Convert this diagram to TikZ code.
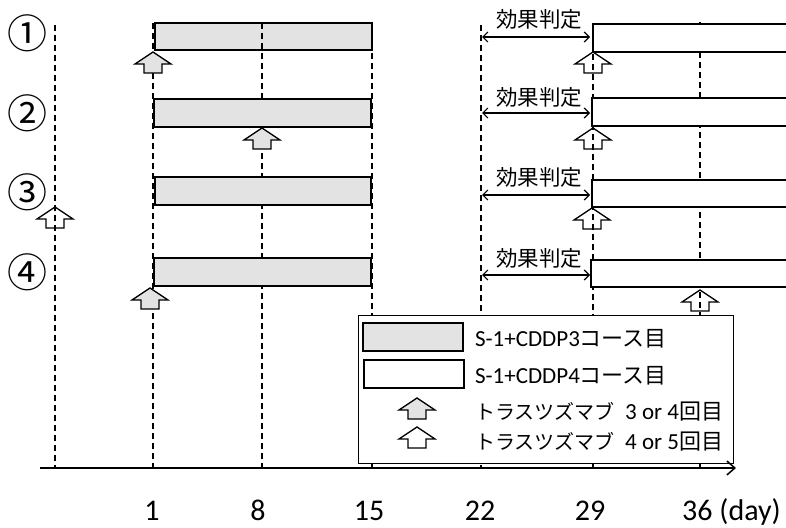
\documentclass[tikz,border=0pt]{standalone}
\usepackage{fontspec}
\setmainfont{Carlito}
\newfontfamily\jp{Noto Sans CJK JP}
\usetikzlibrary{arrows.meta}
\newcommand\uparrowshape[3]{\draw[#3] (#1,#2) -- ++(18,12) -- ++(-9,0) -- ++(0,9) -- ++(-18,0) -- ++(0,-9) -- ++(-9,0) -- cycle;}
\begin{document}
\begin{tikzpicture}[x=1pt,y=-1pt,
 dline/.style={dash pattern=on 6pt off 4pt, line width=1.2pt},
 graybar/.style={draw, line width=1.5pt, fill=gray!22},
 whitebar/.style={draw, line width=1.5pt, fill=white},
 garr/.style={line width=1.3pt, fill=gray!22},
 warr/.style={line width=1.3pt},
 judge/.style={{Straight Barb[length=5pt,width=10pt]}-{Straight Barb[length=5pt,width=10pt]}, line width=1.2pt},
 jtext/.style={font=\jp\fontsize{21.5}{23}\selectfont, inner sep=0pt},
 circ/.style={font=\jp\fontsize{40}{42}\selectfont, inner sep=0pt},
 daylbl/.style={font=\fontsize{30}{32}\selectfont, inner sep=0pt, anchor=base},
 legtext/.style={font=\fontsize{23}{25}\selectfont, inner sep=0pt, anchor=west}
]
\useasboundingbox (0,0) rectangle (786,527);
% day coordinates on axis
\coordinate (dm) at (55,468);
\coordinate (d1) at (153,468);
\coordinate (d8) at (262,468);
\coordinate (d15) at (372,468);
\coordinate (d22) at (481,468);
\coordinate (d29) at (593,468);
\coordinate (d36) at (700,468);
% dashed verticals
\draw[dline] (55,25) -- (dm);
\draw[dline] (153,23) -- (d1);
\draw[dline] (262,23) -- (d8);
\draw[dline] (372,23) -- (d15);
\draw[dline] (481,25) -- (d22);
\draw[dline] (593,24) -- (d29);
\draw[dline] (700,22) -- (d36);
% gray bars (course 3)
\draw[graybar] (155,23) rectangle (372,50);
\draw[graybar] (154,99) rectangle (371,127);
\draw[graybar] (155,177) rectangle (371,205);
\draw[graybar] (154,258) rectangle (371,286);
\draw[dline] (262,23) -- (262,50);
% white bars (course 4)
\draw[line width=1.5pt, fill=white] (786,24) -- (593,24) -- (593,52) -- (786,52);
\draw[line width=1.5pt, fill=white] (786,98) -- (592,98) -- (592,126) -- (786,126);
\draw[line width=1.5pt, fill=white] (786,180) -- (592,180) -- (592,207) -- (786,207);
\draw[line width=1.5pt, fill=white] (786,260) -- (591,260) -- (591,287) -- (786,287);
% effect judgement
\foreach \yt/\ya/\n in {19/37/1, 97/113/2, 177/195/3, 258/275/4}{
  \node[jtext] (j\n) at (539,\yt) {効果判定};
  \coordinate (ja\n) at (482,\ya);
  \coordinate (jb\n) at (590,\ya);
  \draw[judge] (ja\n) -- (jb\n);
}
% circled numbers
\node[circ] (c1) at (28,33) {①};
\node[circ] (c2) at (28,113) {②};
\node[circ] (c3) at (28,192) {③};
\node[circ] (c4) at (28,272) {④};
% trastuzumab arrows
\uparrowshape{153}{52}{garr}
\uparrowshape{262}{128}{garr}
\uparrowshape{55}{207}{warr}
\uparrowshape{150}{288}{garr}
\uparrowshape{593}{52}{warr}
\uparrowshape{593}{128}{warr}
\uparrowshape{592}{208}{warr}
\uparrowshape{700}{290}{warr}
% legend
\draw[line width=1pt, fill=white] (358,315) rectangle (733,463);
\draw[graybar] (363,323) rectangle (463,351);
\draw[whitebar] (364,360) rectangle (464,388);
\uparrowshape{417}{398}{garr}
\uparrowshape{417}{427}{warr}
\node[legtext] (l1) at (475,339) {S-1+CDDP3{\jp\fontsize{22}{24}\selectfont コース目}};
\node[legtext] (l2) at (475,376) {S-1+CDDP4{\jp\fontsize{22}{24}\selectfont コース目}};
\node[legtext] (l3) at (475,412) {{\jp\fontsize{20}{22}\selectfont トラスツズマブ}\ \ 3 or 4{\jp\fontsize{22}{24}\selectfont 回目}};
\node[legtext] (l4) at (475,442) {{\jp\fontsize{20}{22}\selectfont トラスツズマブ}\ \ 4 or 5{\jp\fontsize{22}{24}\selectfont 回目}};
% axis
\coordinate (ax0) at (40,468);
\coordinate (ax1) at (736,468);
\draw[line width=1.5pt, -{Straight Barb[length=8pt,width=14pt]}] (ax0) -- (ax1);
% day labels
\node[daylbl] (t1) at (152,520) {1};
\node[daylbl] (t8) at (258,520) {8};
\node[daylbl] (t15) at (369,520) {15};
\node[daylbl] (t22) at (480,520) {22};
\node[daylbl] (t29) at (590,520) {29};
\node[daylbl, anchor=base west] (t36) at (682,520) {36 (day)};
\end{tikzpicture}
\end{document}
